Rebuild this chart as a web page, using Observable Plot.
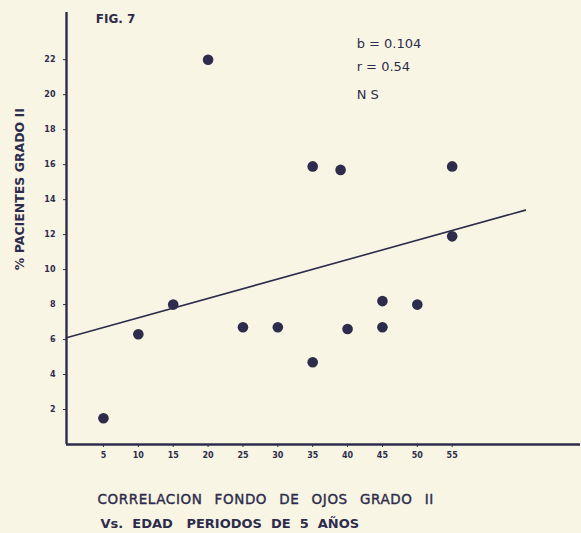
<!DOCTYPE html>
<html>
<head>
<meta charset="utf-8">
<script src="https://cdn.jsdelivr.net/npm/d3@7"></script>
<script src="https://cdn.jsdelivr.net/npm/@observablehq/plot@0.6"></script>
<style>
  html, body { margin: 0; padding: 0; background: #f9f5e4; }
  #chart svg { display: block; }
  #chart g[aria-label="x-axis tick label"] text,
  #chart g[aria-label="y-axis tick label"] text { font-weight: bold; }
</style>
</head>
<body>
<div id="chart"></div>
<script>
// ---- data ----
const ageX = [5, 10, 15, 20, 25, 30, 35, 35, 39, 40, 45, 45, 50, 55, 55];
const pctY = [1.5, 6.3, 8.0, 22.0, 6.7, 6.7, 4.7, 15.9, 15.7, 6.6, 8.2, 6.7, 8.0, 15.9, 11.9];
const xTicks = [5, 10, 15, 20, 25, 30, 35, 40, 45, 50, 55];
const yTicks = [2, 4, 6, 8, 10, 12, 14, 16, 18, 20, 22];
const fitX = [-0.3, 65.5];
const fitY = [6.1, 13.4];
const statLabels = ["b = 0.104", "r = 0.54", "N S"];
const statY = [22.9, 21.6, 20.0];
const figTitle = "FIG. 7";
const yLabel = "% PACIENTES GRADO II";
const xLabel1 = "CORRELACION  FONDO  DE  OJOS  GRADO  II";
const xLabel2 = "Vs.  EDAD   PERIODOS  DE  5  AÑOS";

const ink = "#2d2c4c";
const points = ageX.map((x, i) => ({x, y: pctY[i]}));
const fit = fitX.map((x, i) => ({x, y: fitY[i]}));
const stats = statLabels.map((t, i) => ({t, y: statY[i]}));

const chart = Plot.plot({
  width: 581,
  height: 533,
  marginLeft: 66,
  marginRight: 1,
  marginTop: 12,
  marginBottom: 89,
  style: {background: "#f9f5e4", color: ink, fontFamily: "'DejaVu Sans', sans-serif"},
  x: {domain: [-0.3, 73.4]},
  y: {domain: [0, 24.7]},
  marks: [
    Plot.axisX({ticks: xTicks, tickSize: 3, tickPadding: 5, fontSize: 8, label: null, stroke: ink}),
    Plot.axisY({ticks: yTicks, tickSize: 3, tickPadding: 8, fontSize: 8, label: null, stroke: ink}),
    Plot.ruleY([0], {stroke: ink, strokeWidth: 2.4}),
    Plot.ruleX([-0.3], {stroke: ink, strokeWidth: 2.4}),
    Plot.line(fit, {x: "x", y: "y", stroke: ink, strokeWidth: 1.6}),
    Plot.dot(points, {x: "x", y: "y", r: 5.3, fill: ink, stroke: "none"}),
    Plot.text([figTitle], {x: 3.9, y: 24.3, text: d => d, textAnchor: "start", fontSize: 12, fontWeight: "bold", fill: ink}),
    Plot.text(stats, {x: 41.3, y: "y", text: "t", textAnchor: "start", fontSize: 13, fill: ink}),
    Plot.text([yLabel], {x: -6.9, y: 14.6, text: d => d, rotate: -90, fontSize: 12.5, fontWeight: "bold", fill: ink}),
    Plot.text([xLabel1], {frameAnchor: "bottom-left", text: d => d, textAnchor: "start", dx: 31, dy: 59, fontSize: 13.5, fill: ink}),
    Plot.text([xLabel2], {frameAnchor: "bottom-left", text: d => d, textAnchor: "start", dx: 34, dy: 83, fontSize: 13, fontWeight: "bold", fill: ink})
  ]
});
d3.select(chart).selectAll("text")
  .filter(function() { return this.textContent === xLabel1; })
  .style("letter-spacing", "0.6px")
  .style("word-spacing", "1.2px")
  .style("stroke", ink).style("stroke-width", "0.4px");
document.getElementById("chart").appendChild(chart);
</script>
</body>
</html>
